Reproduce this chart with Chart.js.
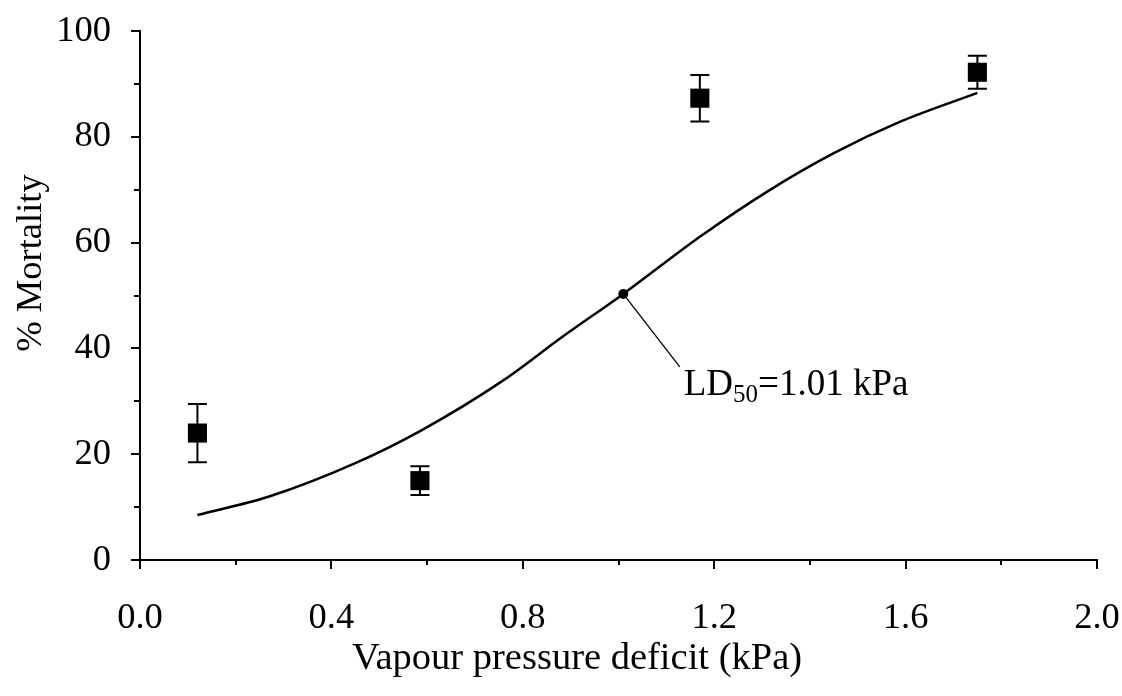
<!DOCTYPE html>
<html>
<head>
<meta charset="utf-8">
<script src="https://cdn.jsdelivr.net/npm/chart.js@4/dist/chart.umd.min.js"></script>
<style>
  html, body {margin: 0; padding: 0; background: #fff;}
  #wrap {width: 1122px; height: 696px;}
</style>
</head>
<body>
<div id="wrap"><canvas id="c"></canvas></div>
<script>
// Observed mortality (mean ± error) against vapour pressure deficit.
const obsX = [0.12, 0.585, 1.17, 1.75];
const obsY = [24.0, 15.0, 87.3, 92.2];
const obsErr = [5.5, 2.7, 4.4, 3.1];

// Fitted dose-response curve.
const curveX = [0.12, 0.27, 0.45, 0.59, 0.76, 0.88, 1.01, 1.17, 1.31, 1.45, 1.59, 1.75];
const curveY = [8.5, 12.0, 18.3, 24.6, 34.0, 42.0, 50.3, 61.1, 69.6, 76.9, 82.9, 88.3];

// LD50 marker and its label anchor (data units).
const ld50 = {x: 1.01, y: 50.3};
const ld50Label = {x: 1.128, y: 36.5};
const ld50Text = ['LD', '50', '=1.01 kPa'];

const xTicks = [0.0, 0.4, 0.8, 1.2, 1.6, 2.0];
const xMinor = [0.2, 0.6, 1.0, 1.4, 1.8];
const yTicks = [0, 20, 40, 60, 80, 100];
const yMinor = [10, 30, 50, 70, 90];

const xTitle = 'Vapour pressure deficit (kPa)';
const yTitle = '% Mortality';

const FONT = "'Liberation Serif', 'Times New Roman', serif";

const zip = (xs, ys) => xs.map((x, i) => ({x, y: ys[i]}));

// Draws the error bars with caps under the markers.
const errorBars = {
    id: 'error-bars',
    beforeDatasetsDraw(chart) {
        const {ctx, scales: {x, y}} = chart;
        const cap = 9.5;
        ctx.save();
        ctx.strokeStyle = '#000';
        ctx.lineWidth = 2;
        for (const [i, v] of obsX.entries()) {
            const px = x.getPixelForValue(v);
            const lo = y.getPixelForValue(obsY[i] - obsErr[i]);
            const hi = y.getPixelForValue(obsY[i] + obsErr[i]);
            ctx.beginPath();
            ctx.moveTo(px, lo); ctx.lineTo(px, hi);
            ctx.moveTo(px - cap, lo); ctx.lineTo(px + cap, lo);
            ctx.moveTo(px - cap, hi); ctx.lineTo(px + cap, hi);
            ctx.stroke();
        }
        ctx.restore();
    },
};

// Minor ticks, axis titles (placed like the original, off-centre),
// and the LD50 label with subscript.
const extras = {
    id: 'extras',
    afterDraw(chart) {
        const {ctx, scales: {x, y}} = chart;
        ctx.save();
        ctx.strokeStyle = '#000';
        ctx.lineWidth = 2;
        ctx.beginPath();
        for (const v of xMinor) {
            const px = Math.round(x.getPixelForValue(v));
            ctx.moveTo(px, y.bottom); ctx.lineTo(px, y.bottom + 5);
        }
        for (const v of yMinor) {
            const py = Math.round(y.getPixelForValue(v));
            ctx.moveTo(x.left - 6, py); ctx.lineTo(x.left, py);
        }
        ctx.stroke();

        ctx.fillStyle = '#000';
        ctx.textAlign = 'center';
        ctx.textBaseline = 'middle';
        ctx.font = `38.5px ${FONT}`;
        ctx.fillText(xTitle, 577, 659);
        ctx.save();
        ctx.translate(31, 263);
        ctx.rotate(-Math.PI / 2);
        ctx.font = `36.5px ${FONT}`;
        ctx.fillText(yTitle, 0, 0);
        ctx.restore();

        const lx = x.getPixelForValue(ld50Label.x) + 4;
        const ly = y.getPixelForValue(ld50Label.y) + 28;
        ctx.textAlign = 'left';
        ctx.textBaseline = 'alphabetic';
        ctx.font = `37px ${FONT}`;
        ctx.fillText(ld50Text[0], lx, ly);
        let w = ctx.measureText(ld50Text[0]).width;
        ctx.font = `25px ${FONT}`;
        ctx.fillText(ld50Text[1], lx + w, ly + 7);
        w += ctx.measureText(ld50Text[1]).width;
        ctx.font = `37px ${FONT}`;
        ctx.fillText(ld50Text[2], lx + w, ly);
        ctx.restore();
    },
};

new Chart(document.getElementById('c'), {
    type: 'scatter',
    data: {
        datasets: [
            {
                type: 'line', data: zip(curveX, curveY),
                borderColor: '#000', borderWidth: 2.5, pointRadius: 0,
                cubicInterpolationMode: 'monotone', fill: false,
            },
            {
                type: 'line', data: [ld50, ld50Label],
                borderColor: '#000', borderWidth: 1.3, pointRadius: 0,
                fill: false,
            },
            {
                data: [ld50], pointRadius: 5, pointStyle: 'circle',
                backgroundColor: '#000', borderColor: '#000', borderWidth: 0,
            },
            {
                data: zip(obsX, obsY), pointStyle: 'rect', pointRadius: 13.5,
                backgroundColor: '#000', borderColor: '#000', borderWidth: 0,
            },
        ],
    },
    plugins: [errorBars, extras],
    options: {
        responsive: true, maintainAspectRatio: false, animation: false,
        layout: {padding: {top: 31, right: 25, left: 0, bottom: 0}},
        plugins: {legend: {display: false}, tooltip: {enabled: false}},
        scales: {
            x: {
                type: 'linear', min: 0, max: 2,
                afterFit: s => {
                    s.height = 136;
                    s.paddingLeft = 0; s.paddingRight = 0;
                },
                afterBuildTicks: s => { s.ticks = xTicks.map(value => ({value})); },
                ticks: {
                    color: '#000', padding: 28,
                    font: {family: FONT, size: 36.5},
                    callback: v => v.toFixed(1),
                },
                grid: {
                    drawOnChartArea: false, tickLength: 9,
                    color: '#000', lineWidth: 2,
                },
                border: {color: '#000', width: 2},
            },
            y: {
                min: 0, max: 100,
                afterFit: s => {
                    s.width = 140;
                    s.paddingTop = 0; s.paddingBottom = 0;
                },
                afterBuildTicks: s => { s.ticks = yTicks.map(value => ({value})); },
                ticks: {
                    color: '#000', padding: 20,
                    font: {family: FONT, size: 36.5},
                },
                grid: {
                    drawOnChartArea: false, tickLength: 9,
                    color: '#000', lineWidth: 2,
                },
                border: {color: '#000', width: 2},
            },
        },
    },
});
</script>
</body>
</html>
